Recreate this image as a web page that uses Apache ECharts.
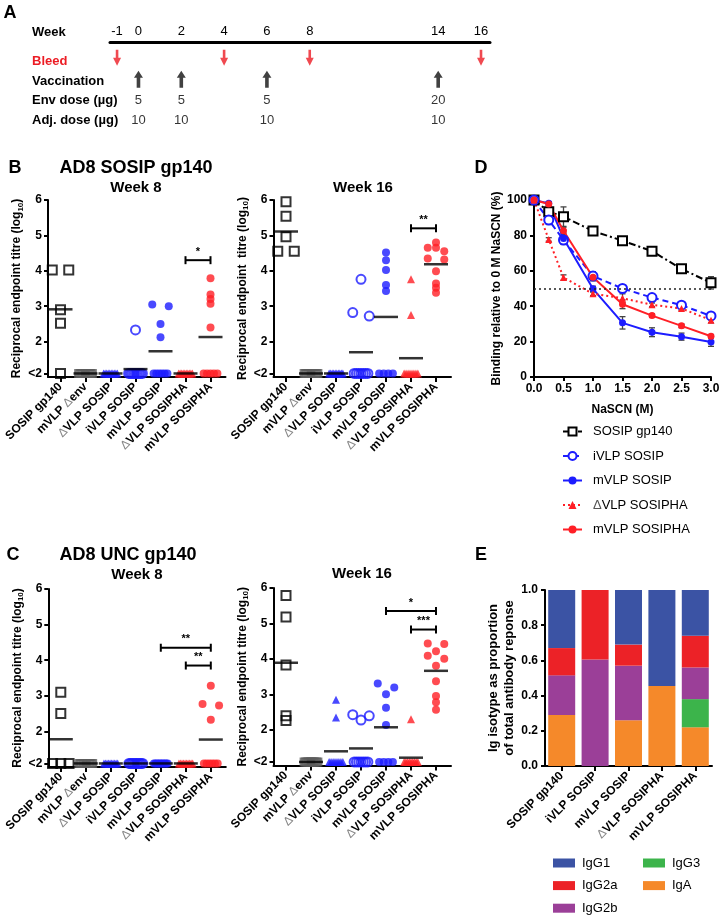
<!DOCTYPE html>
<html>
<head>
<meta charset="utf-8">
<title>AD8 SOSIP / UNC gp140 immunogenicity</title>
<script src="https://cdn.jsdelivr.net/npm/echarts@6/dist/echarts.min.js"></script>
<style>
  html, body { margin: 0; padding: 0; background: #fff; }
  #fig { width: 722px; height: 921px; }
</style>
</head>
<body>
<div id="fig"></div>
<script>
// ---------- A: immunisation schedule ----------
const weekTicks = [-1, 0, 2, 4, 6, 8, 14, 16];
const scheduleRows = ['Bleed', 'Vaccination', 'Env dose (µg)', 'Adj. dose (µg)'];
const bleedWeeks = [-1, 4, 8, 16];
const vaccWeeks = [0, 2, 6, 14];
const envDose = [5, 5, 5, 20];
const adjDose = [10, 10, 10, 10];

// ---------- B, C: endpoint titres (log10), 1.1 = below detection ("<2") ----------
const titreGroups = ['SOSIP gp140', 'mVLP Δenv', 'ΔVLP SOSIP', 'iVLP SOSIP', 'mVLP SOSIP', 'ΔVLP SOSIPHA', 'mVLP SOSIPHA'];
const titreTicks = [1.1, 2, 3, 4, 5, 6];

const sosipWk8 = [
  [4.02, 4.02, 2.9, 2.52, 1.1],
  [1.1, 1.1, 1.1, 1.1, 1.1, 1.1, 1.1, 1.1, 1.1, 1.1],
  [1.1, 1.1, 1.1, 1.1, 1.1, 1.1, 1.1, 1.1, 1.1, 1.1],
  [2.33, 1.1, 1.1, 1.1, 1.1, 1.1, 1.1, 1.1, 1.1, 1.1],
  [3.05, 3.0, 2.5, 2.12, 1.1, 1.1, 1.1, 1.1, 1.1, 1.1],
  [1.1, 1.1, 1.1, 1.1, 1.1, 1.1, 1.1, 1.1, 1.1, 1.1],
  [3.79, 3.33, 3.2, 3.07, 2.4, 1.1, 1.1, 1.1, 1.1, 1.1]
];
const sosipWk16 = [
  [5.95, 5.54, 4.96, 4.55, 4.55],
  [1.1, 1.1, 1.1, 1.1, 1.1, 1.1, 1.1, 1.1, 1.1, 1.1],
  [1.1, 1.1, 1.1, 1.1, 1.1, 1.1, 1.1, 1.1, 1.1, 1.1],
  [3.76, 2.82, 2.72, 1.1, 1.1, 1.1, 1.1, 1.1, 1.1, 1.1],
  [4.52, 4.30, 4.02, 3.6, 3.43, 1.1, 1.1, 1.1, 1.1],
  [3.76, 2.75, 1.1, 1.1, 1.1, 1.1, 1.1, 1.1, 1.1, 1.1],
  [4.8, 4.65, 4.65, 4.55, 4.35, 4.32, 3.99, 3.64, 3.52, 3.38]
];
const uncWk8 = [
  [3.1, 2.5, 1.1, 1.1, 1.1],
  [1.1, 1.1, 1.1, 1.1, 1.1, 1.1, 1.1, 1.1, 1.1, 1.1],
  [1.1, 1.1, 1.1, 1.1, 1.1, 1.1, 1.1, 1.1, 1.1, 1.1],
  [1.1, 1.1, 1.1, 1.1, 1.1, 1.1, 1.1, 1.1, 1.1, 1.1],
  [1.1, 1.1, 1.1, 1.1, 1.1, 1.1, 1.1, 1.1, 1.1, 1.1],
  [1.1, 1.1, 1.1, 1.1, 1.1, 1.1, 1.1, 1.1, 1.1, 1.1],
  [3.28, 2.77, 2.73, 2.33, 1.1, 1.1, 1.1, 1.1, 1.1, 1.1]
];
const uncWk16 = [
  [5.79, 5.18, 3.83, 2.4, 2.27],
  [1.1, 1.1, 1.1, 1.1, 1.1, 1.1, 1.1, 1.1, 1.1, 1.1],
  [2.85, 2.35, 1.1, 1.1, 1.1, 1.1, 1.1, 1.1, 1.1, 1.1],
  [2.43, 2.4, 2.28, 1.1, 1.1, 1.1, 1.1, 1.1, 1.1, 1.1],
  [3.31, 3.2, 3.01, 2.63, 2.14, 1.1, 1.1, 1.1, 1.1],
  [2.3, 1.1, 1.1, 1.1, 1.1, 1.1, 1.1, 1.1, 1.1, 1.1],
  [4.44, 4.42, 4.22, 4.09, 4.01, 3.81, 3.37, 2.96, 2.78, 2.57]
];
// significance brackets: [from group, to group, height, stars]
const sosipWk8Sig = [[5, 6, 4.3, '*']];
const sosipWk16Sig = [[5, 6, 5.2, '**']];
const uncWk8Sig = [[4, 6, 4.35, '**'], [5, 6, 3.85, '**']];
const uncWk16Sig = [[4, 6, 5.35, '*'], [5, 6, 4.83, '***']];

// ---------- D: NaSCN avidity ----------
const nascn = [0, 0.25, 0.5, 1, 1.5, 2, 2.5, 3];
const dSosip = [100, 93.4, 90.6, 82.5, 77, 71.1, 61.1, 53.2];
const dIvlp = [100, 88.7, 77.4, 57, 50, 44.9, 40.6, 34.5];
const dMvlp = [100, 98.1, 78.3, 49.8, 30.6, 25.3, 22.8, 19.8];
const dDvlpHA = [100, 77.7, 56.2, 47, 44.5, 40.8, 38.7, 32.1];
const dMvlpHA = [100, 97.7, 82.6, 56.4, 41.1, 34.7, 28.9, 23];
const errSosip = [0, 2, 5.5, 1, 1, 1, 1, 3.5];
const errIvlp = [0, 2.5, 2.5, 2.5, 2, 1, 1, 1.5];
const errMvlp = [0, 1, 3, 1.5, 3.5, 2.5, 2, 2.5];
const errDvlpHA = [0, 1, 1.5, 1, 2.5, 1, 1, 1.5];
const errMvlpHA = [0, 1, 2, 2, 2.5, 1, 1, 1];

// ---------- E: isotype proportions ----------
const isoGroups = ['SOSIP gp140', 'iVLP SOSIP', 'mVLP SOSIP', 'ΔVLP SOSIPHA', 'mVLP SOSIPHA'];
const igG1 = [0.33, 0, 0.31, 0.545, 0.26];
const igG2a = [0.155, 0.395, 0.12, 0, 0.18];
const igG2b = [0.225, 0.605, 0.31, 0, 0.18];
const igG3 = [0, 0, 0, 0, 0.16];
const igA = [0.29, 0, 0.26, 0.455, 0.22];

const F = "'Liberation Sans', Arial, sans-serif";
const FN = "'Liberation Sans Narrow', 'Arial Narrow', 'Liberation Sans', Arial, sans-serif";
const BLUE = '#1c1cff', RED = '#ff1f26', GRAY = '#5c5c5c';

const markStyle = [
  { symbol: 'rect', size: 9, color: '#000', empty: true },
  { symbol: 'rect', size: 7, color: GRAY, empty: true },
  { symbol: 'triangle', size: 8, color: BLUE },
  { symbol: 'circle', size: 9, color: BLUE, empty: true },
  { symbol: 'circle', size: 8, color: BLUE },
  { symbol: 'triangle', size: 8, color: RED },
  { symbol: 'circle', size: 8, color: RED }
];

// spread points with (nearly) equal values sideways, like a dot plot
function spread(vals, gi) {
  const sorted = vals.slice().sort((a, b) => b - a);
  const rows = [];
  sorted.forEach(v => {
    const r = rows[rows.length - 1];
    if (r && r[0] - v < 0.12) r.push(v); else rows.push([v]);
  });
  const pts = [];
  rows.forEach(r => {
    const n = r.length;
    const w = n === 1 ? 0 : (n <= 3 ? 0.66 : 0.55);
    r.forEach((v, i) => pts.push([gi + (n === 1 ? 0 : -w / 2 + i * w / (n - 1)), v]));
  });
  return pts;
}
const mean = a => a.reduce((s, v) => s + v, 0) / a.length;

const blackLine = { color: '#000', width: 2 };

function titreAxes(gi, name, nameGap) {
  const x = {
    type: 'value', gridIndex: gi, min: -0.5, max: 6.6,
    axisLine: { show: true, onZero: false, lineStyle: blackLine },
    axisTick: { show: true, customValues: [0, 1, 2, 3, 4, 5, 6], length: 5, lineStyle: blackLine },
    splitLine: { show: false },
    axisLabel: {
      customValues: [0, 1, 2, 3, 4, 5, 6], rotate: 45, margin: 8,
      fontSize: 12, fontWeight: 'bold', fontFamily: F, color: '#000',
      formatter: v => titreGroups[Math.round(v)].replace('Δ', '{d|Δ}'),
      rich: { d: { color: '#888', fontWeight: 'normal', fontSize: 12, fontFamily: F } }
    }
  };
  const y = {
    type: 'value', gridIndex: gi, min: 1, max: 6,
    name: name, nameLocation: 'middle', nameGap: nameGap,
    nameTextStyle: {
      fontSize: 12, fontWeight: 'bold', fontFamily: F, color: '#000', lineHeight: 15,
      rich: { sub: { fontSize: 8, fontWeight: 'bold', fontFamily: F, verticalAlign: 'bottom', lineHeight: 9 } }
    },
    axisLine: { show: true, onZero: false, lineStyle: blackLine },
    axisTick: { show: true, customValues: titreTicks, length: 4, lineStyle: blackLine },
    splitLine: { show: false },
    axisLabel: {
      customValues: titreTicks, margin: 6, fontSize: 12, fontWeight: 'bold', fontFamily: F, color: '#000',
      formatter: v => (v < 2 ? '<2' : String(v))
    }
  };
  return { x, y };
}

function titreSeries(vals, sig, ai, key) {
  const out = [];
  vals.forEach((g, gi) => {
    const st = markStyle[gi];
    out.push({
      type: 'scatter', name: key + '-' + gi, xAxisIndex: ai, yAxisIndex: ai,
      data: spread(g, gi), symbol: st.symbol, symbolSize: st.size, silent: true, z: 3,
      itemStyle: st.empty
        ? { color: 'rgba(255,255,255,0)', borderColor: st.color, borderWidth: 2 }
        : { color: st.color }
    });
  });
  out.push({
    type: 'scatter', name: key + '-mean', xAxisIndex: ai, yAxisIndex: ai, silent: true, z: 5,
    data: vals.map((g, gi) => [gi, mean(g)]),
    symbol: 'rect', symbolSize: [24, 2.5], itemStyle: { color: '#000' }
  });
  out.push({
    type: 'custom', name: key + '-sig', xAxisIndex: ai, yAxisIndex: ai, silent: true, z: 6,
    data: sig.map(s => [s[0], s[1], s[2]]),
    encode: { x: [0, 1], y: 2 },
    renderItem: (params, api) => {
      const a = api.coord([api.value(0), api.value(2)]);
      const b = api.coord([api.value(1), api.value(2)]);
      const st = { stroke: '#000', lineWidth: 2 };
      return {
        type: 'group', children: [
          { type: 'line', shape: { x1: a[0], y1: a[1], x2: b[0], y2: b[1] }, style: st },
          { type: 'line', shape: { x1: a[0], y1: a[1] - 4, x2: a[0], y2: a[1] + 4 }, style: st },
          { type: 'line', shape: { x1: b[0], y1: b[1] - 4, x2: b[0], y2: b[1] + 4 }, style: st },
          { type: 'text', x: (a[0] + b[0]) / 2, y: a[1] - 3,
            style: { text: sig[params.dataIndex][3], font: 'bold 11px ' + F, fill: '#000',
                     textAlign: 'center', textVerticalAlign: 'bottom' } }
        ]
      };
    }
  });
  return out;
}

const titreName = 'Reciprocal endpoint titre (log{sub|10})';
const axB8 = titreAxes(1, titreName, 23);
const axB16 = titreAxes(2, 'Reciprocal endpoint  titre (log{sub|10})', 22);
const axC8 = titreAxes(3, titreName, 21);
const axC16 = titreAxes(4, titreName, 22);

// panel D line series
const dLines = [
  { name: 'SOSIP gp140', vals: dSosip, err: errSosip, color: '#000', dash: [7, 3, 2, 3], symbol: 'emptyRect', size: 9 },
  { name: 'iVLP SOSIP', vals: dIvlp, err: errIvlp, color: BLUE, dash: [6, 4], symbol: 'emptyCircle', size: 9 },
  { name: 'mVLP SOSIP', vals: dMvlp, err: errMvlp, color: BLUE, dash: 'solid', symbol: 'circle', size: 7 },
  { name: 'ΔVLP SOSIPHA', vals: dDvlpHA, err: errDvlpHA, color: RED, dash: [2, 3], symbol: 'triangle', size: 7 },
  { name: 'mVLP SOSIPHA', vals: dMvlpHA, err: errMvlpHA, color: RED, dash: 'solid', symbol: 'circle', size: 7 }
];
const dSeries = [];
dLines.forEach((d, k) => {
  dSeries.push({
    type: 'line', name: d.name, xAxisIndex: 5, yAxisIndex: 5, z: 4,
    data: nascn.map((x, i) => [x, d.vals[i]]),
    symbol: d.symbol, symbolSize: d.size, showSymbol: true,
    lineStyle: { color: d.color, width: 2, type: d.dash },
    itemStyle: { color: d.color, borderWidth: 2 },
    markLine: k === 0 ? {
      silent: true, symbol: 'none', label: { show: false },
      lineStyle: { color: '#222', width: 1.5, type: [2, 3] },
      data: [{ yAxis: 50 }]
    } : undefined
  });
  dSeries.push({
    type: 'custom', name: d.name + '-err', xAxisIndex: 5, yAxisIndex: 5, z: 2, silent: true,
    data: nascn.map((x, i) => [x, d.vals[i], d.err[i]]),
    encode: { x: 0, y: 1 },
    renderItem: (params, api) => {
      const e = api.value(2);
      if (!e) return;
      const t = api.coord([api.value(0), api.value(1) + e]);
      const b = api.coord([api.value(0), api.value(1) - e]);
      const st = { stroke: '#444', lineWidth: 1.3 };
      return {
        type: 'group', children: [
          { type: 'line', shape: { x1: t[0], y1: t[1], x2: b[0], y2: b[1] }, style: st },
          { type: 'line', shape: { x1: t[0] - 3, y1: t[1], x2: t[0] + 3, y2: t[1] }, style: st },
          { type: 'line', shape: { x1: b[0] - 3, y1: b[1], x2: b[0] + 3, y2: b[1] }, style: st }
        ]
      };
    }
  });
});

// panel E stacked bars, bottom to top
const isoSeries = [
  { name: 'IgA', data: igA, color: '#f5892a' },
  { name: 'IgG3', data: igG3, color: '#3cb44b' },
  { name: 'IgG2b', data: igG2b, color: '#9b3f98' },
  { name: 'IgG2a', data: igG2a, color: '#ec2227' },
  { name: 'IgG1', data: igG1, color: '#3b53a4' }
].map(s => ({
  type: 'bar', name: s.name, stack: 'iso', xAxisIndex: 6, yAxisIndex: 6,
  barWidth: 27, data: s.data, itemStyle: { color: s.color }, silent: true
}));

const bold = (sz, fam) => 'bold ' + sz + 'px ' + (fam || F);
const txt = (x, y, text, font, align, color) => ({
  type: 'text', x: x, y: y, silent: true,
  style: { text: text, font: font, fill: color || '#000', textAlign: align || 'center', textVerticalAlign: 'middle' }
});

const plainAxisLine = { show: true, onZero: false, lineStyle: blackLine };
const tick4 = { show: true, length: 4, lineStyle: blackLine };
const lblBold = { fontSize: 12, fontWeight: 'bold', fontFamily: F, color: '#000' };
const isoLegendText = { fontSize: 13, fontFamily: F, color: '#000', padding: [0, 0, 0, 2] };

const option = {
  animation: false,
  backgroundColor: '#fff',
  grid: [
    { left: 110, top: 52, width: 380, height: 78, outerBoundsMode: 'none' },
    { left: 48, top: 200, width: 177.5, height: 177, outerBoundsMode: 'none' },
    { left: 273.5, top: 200, width: 177.5, height: 177, outerBoundsMode: 'none' },
    { left: 48.3, top: 589, width: 177.5, height: 178, outerBoundsMode: 'none' },
    { left: 273.5, top: 588, width: 177.5, height: 177.5, outerBoundsMode: 'none' },
    { left: 534, top: 200, width: 177, height: 177, outerBoundsMode: 'none' },
    { left: 545, top: 590, width: 167, height: 176, outerBoundsMode: 'none' }
  ],
  xAxis: [
    {
      type: 'value', gridIndex: 0, position: 'top', offset: 10, min: -1.33, max: 16.42,
      axisLine: { show: true, onZero: false, lineStyle: { color: '#000', width: 3 } },
      axisTick: { show: false }, splitLine: { show: false },
      axisLabel: { customValues: weekTicks, margin: 4, fontSize: 13, fontFamily: FN, color: '#000' }
    },
    axB8.x, axB16.x, axC8.x, axC16.x,
    {
      type: 'value', gridIndex: 5, min: 0, max: 3, interval: 0.5,
      name: 'NaSCN (M)', nameLocation: 'middle', nameGap: 27,
      nameTextStyle: { fontSize: 12, fontWeight: 'bold', fontFamily: F, color: '#000' },
      axisLine: plainAxisLine, axisTick: tick4, splitLine: { show: false },
      axisLabel: Object.assign({ margin: 6, formatter: v => v.toFixed(1) }, lblBold)
    },
    {
      type: 'category', gridIndex: 6, data: isoGroups,
      axisLine: plainAxisLine, axisTick: Object.assign({ alignWithLabel: true }, tick4, { length: 5 }),
      axisLabel: Object.assign({
        rotate: 45, interval: 0, margin: 8,
        formatter: v => v.replace('Δ', '{d|Δ}'),
        rich: { d: { color: '#888', fontWeight: 'normal', fontSize: 12, fontFamily: F } }
      }, lblBold)
    }
  ],
  yAxis: [
    {
      type: 'category', gridIndex: 0, inverse: true, data: scheduleRows,
      axisLine: { show: false }, axisTick: { show: false }, splitLine: { show: false },
      axisLabel: {
        align: 'left', margin: 78, fontSize: 13, fontWeight: 'bold', fontFamily: FN,
        color: v => (v === 'Bleed' ? '#ec1c24' : '#000')
      }
    },
    axB8.y, axB16.y, axC8.y, axC16.y,
    {
      type: 'value', gridIndex: 5, min: 0, max: 100, interval: 20,
      name: 'Binding relative to 0 M NaSCN (%)', nameLocation: 'middle', nameGap: 29,
      nameTextStyle: { fontSize: 12, fontWeight: 'bold', fontFamily: F, color: '#000' },
      axisLine: plainAxisLine, axisTick: tick4, splitLine: { show: false },
      axisLabel: Object.assign({ margin: 7 }, lblBold)
    },
    {
      type: 'value', gridIndex: 6, min: 0, max: 1, interval: 0.2,
      name: 'Ig isotype as proportion\nof total antibody reponse', nameLocation: 'middle', nameGap: 25,
      nameTextStyle: { fontSize: 13, fontWeight: 'bold', fontFamily: F, color: '#000', lineHeight: 16 },
      axisLine: plainAxisLine, axisTick: tick4, splitLine: { show: false },
      axisLabel: Object.assign({ margin: 7, formatter: v => v.toFixed(1) }, lblBold)
    }
  ],
  legend: [
    {
      data: dLines.map(d => d.name), orient: 'vertical', left: 562, top: 425, padding: 0,
      itemWidth: 19, itemHeight: 10, itemGap: 11.5, selectedMode: false,
      formatter: n => n.replace('Δ', '{d|Δ}'),
      textStyle: {
        fontSize: 13, fontFamily: F, color: '#000', padding: [0, 0, 0, 6],
        rich: { d: { color: '#555', fontSize: 13, fontFamily: F } }
      }
    },
    {
      data: ['IgG1', 'IgG2a', 'IgG2b'], orient: 'vertical', left: 553, top: 856.5, padding: 0,
      icon: 'rect', itemWidth: 22, itemHeight: 9, itemGap: 9.6, selectedMode: false,
      textStyle: isoLegendText
    },
    {
      data: ['IgG3', 'IgA'], orient: 'vertical', left: 643, top: 856.5, padding: 0,
      icon: 'rect', itemWidth: 22, itemHeight: 9, itemGap: 9.6, selectedMode: false,
      textStyle: isoLegendText
    }
  ],
  graphic: [
    txt(10, 13, 'A', bold(18)),
    txt(32, 32, 'Week', bold(13, FN), 'left'),
    txt(15, 168, 'B', bold(18)),
    txt(136, 168, 'AD8 SOSIP gp140', bold(18)),
    txt(136, 188, 'Week 8', bold(15)),
    txt(363, 188, 'Week 16', bold(15)),
    txt(481, 168, 'D', bold(18)),
    txt(13, 555, 'C', bold(18)),
    txt(128, 555, 'AD8 UNC gp140', bold(18)),
    txt(137, 575, 'Week 8', bold(15)),
    txt(362, 574, 'Week 16', bold(15)),
    txt(481, 555, 'E', bold(18))
  ],
  series: [
    {
      type: 'scatter', name: 'bleed', xAxisIndex: 0, yAxisIndex: 0, silent: true,
      data: bleedWeeks.map(w => [w, 'Bleed']),
      symbol: 'path://M2.7,0 L5.3,0 L5.3,8 L8,8 L4,16 L0,8 L2.7,8 Z',
      symbolSize: [8, 16], symbolOffset: [0, -4], itemStyle: { color: '#ec1c24' }
    },
    {
      type: 'scatter', name: 'vaccination', xAxisIndex: 0, yAxisIndex: 0, silent: true,
      data: vaccWeeks.map(w => [w, 'Vaccination']),
      symbol: 'path://M4,0 L8,7 L5.6,7 L5.6,17 L2.4,17 L2.4,7 L0,7 Z',
      symbolSize: [9, 17], symbolOffset: [0, -2], itemStyle: { color: '#111' }
    },
    {
      type: 'scatter', name: 'envDose', xAxisIndex: 0, yAxisIndex: 0, silent: true,
      data: vaccWeeks.map((w, i) => [w, 'Env dose (µg)', envDose[i]]),
      symbolSize: 1, itemStyle: { color: 'rgba(0,0,0,0)' },
      label: { show: true, position: 'inside', formatter: p => p.value[2], fontSize: 13, fontFamily: FN, color: '#000' }
    },
    {
      type: 'scatter', name: 'adjDose', xAxisIndex: 0, yAxisIndex: 0, silent: true,
      data: vaccWeeks.map((w, i) => [w, 'Adj. dose (µg)', adjDose[i]]),
      symbolSize: 1, itemStyle: { color: 'rgba(0,0,0,0)' },
      label: { show: true, position: 'inside', formatter: p => p.value[2], fontSize: 13, fontFamily: FN, color: '#000' }
    }
  ]
    .concat(titreSeries(sosipWk8, sosipWk8Sig, 1, 'b8'))
    .concat(titreSeries(sosipWk16, sosipWk16Sig, 2, 'b16'))
    .concat(titreSeries(uncWk8, uncWk8Sig, 3, 'c8'))
    .concat(titreSeries(uncWk16, uncWk16Sig, 4, 'c16'))
    .concat(dSeries)
    .concat(isoSeries)
};

const chart = echarts.init(document.getElementById('fig'));
chart.setOption(option);
</script>
</body>
</html>
